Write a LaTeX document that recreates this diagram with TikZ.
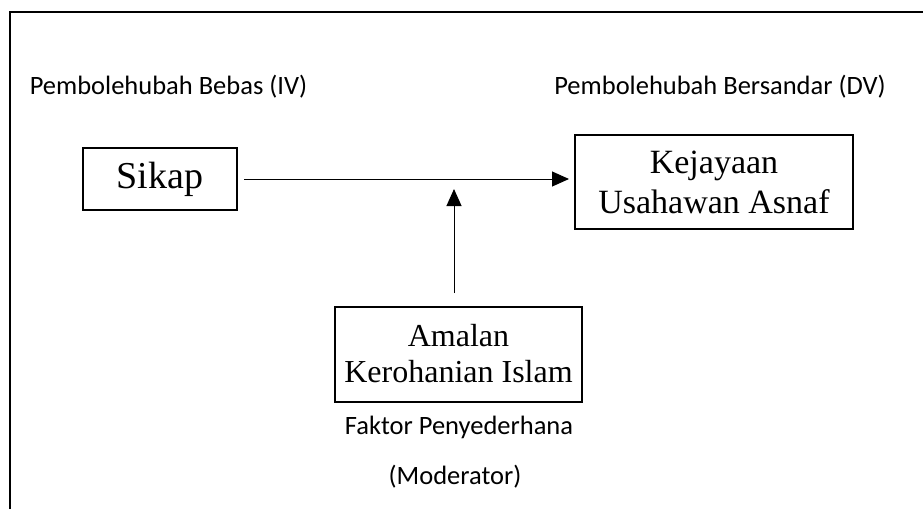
\documentclass[tikz,border=0pt]{standalone}
\usepackage{fontspec}
\setmainfont{Liberation Serif}
\newfontfamily\labfont{Carlito}
\usetikzlibrary{arrows.meta}
\begin{document}
\begin{tikzpicture}[x=1pt,y=-1pt,
  box/.style={draw,line width=2pt,inner sep=0pt,align=center},
  lab/.style={inner sep=0pt,font=\labfont\fontsize{26.5}{30}\selectfont},
  conn/.style={line width=1pt,-{Triangle[length=17pt,width=15pt]}}]
\useasboundingbox (0,0) rectangle (923,509);
\draw[line width=2pt] (10,509) -- (10,12) -- (923,12);
\node[lab] (iv) at (168.5,87) {Pembolehubah Bebas (IV)};
\node[lab] (dv) at (720,87) {Pembolehubah Bersandar (DV)};
\node[box,minimum width=154pt,minimum height=62pt,font=\fontsize{38}{42}\selectfont] (sikap) at (160,179) {Sikap};
\node[box,minimum width=278pt,minimum height=94pt,font=\fontsize{34}{40}\selectfont] (kej) at (714,182) {Kejayaan\\Usahawan Asnaf};
\node[box,minimum width=247pt,minimum height=95pt,font=\fontsize{32}{36}\selectfont] (amal) at (458.5,354) {Amalan\\Kerohanian Islam};
\node[lab] (fak) at (459,427) {Faktor Penyederhana};
\node[lab] (mod) at (455,477) {(Moderator)};
\draw[conn] ([xshift=6pt]sikap.east) -- ([xshift=-5pt]kej.west |- sikap.east);
\coordinate (vs) at (454,293);
\coordinate (ve) at (454,189);
\draw[conn] (vs) -- (ve);
\end{tikzpicture}
\end{document}
